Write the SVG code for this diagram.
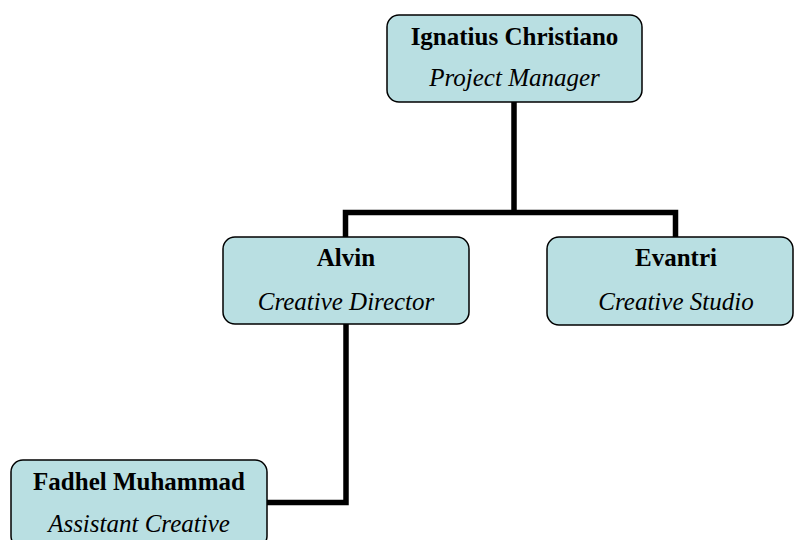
<svg xmlns="http://www.w3.org/2000/svg" width="794" height="540" viewBox="0 0 794 540">
<style>
.box{fill:#b9dfe2;stroke:#000;stroke-width:1.5}
.name{font-family:"Liberation Serif","Times New Roman",serif;font-weight:bold;font-size:25px;text-anchor:middle;fill:#000}
.role{font-family:"Liberation Serif","Times New Roman",serif;font-style:italic;font-size:25px;text-anchor:middle;fill:#000}
.conn{fill:none;stroke:#000;stroke-width:5.5;stroke-linejoin:miter}
</style>
<rect width="794" height="540" fill="#fff"/>
<g id="connectors">
<path class="conn" d="M514 102 V212.5 M345.5 237 V212.5 H675.5 V237"/>
<path class="conn" d="M346 324 V502.5 H267"/>
</g>
<g id="node-ignatius">
<rect class="box" x="387" y="15" width="255" height="87" rx="12"/>
<text class="name" x="514.5" y="45">Ignatius Christiano</text>
<text class="role" x="514.5" y="86">Project Manager</text>
</g>
<g id="node-alvin">
<rect class="box" x="223" y="237" width="246" height="87" rx="12"/>
<text class="name" x="346" y="266">Alvin</text>
<text class="role" x="346" y="310">Creative Director</text>
</g>
<g id="node-evantri">
<rect class="box" x="547" y="237" width="246" height="88" rx="12"/>
<text class="name" x="676" y="266">Evantri</text>
<text class="role" x="676" y="310">Creative Studio</text>
</g>
<g id="node-fadhel">
<rect class="box" x="11" y="460" width="256" height="88" rx="12"/>
<text class="name" x="139" y="490">Fadhel Muhammad</text>
<text class="role" x="139" y="532">Assistant Creative</text>
</g>
</svg>
